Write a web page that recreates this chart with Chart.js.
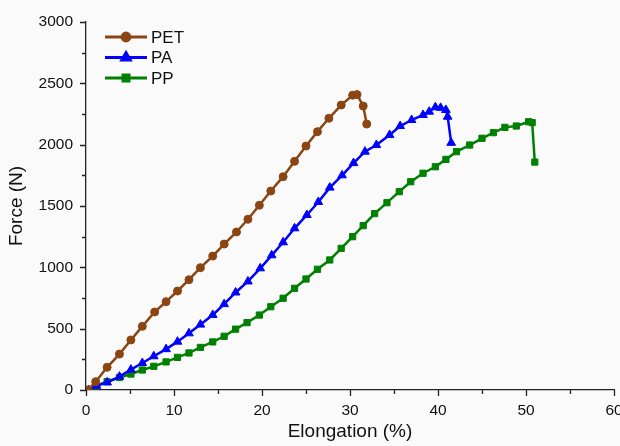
<!DOCTYPE html>
<html>
<head>
<meta charset="utf-8">
<script src="https://cdn.jsdelivr.net/npm/chart.js@4"></script>
<style>
  html, body { margin: 0; padding: 0; background: #fafafa; }
  #wrap { position: relative; width: 620px; height: 446px; }
</style>
</head>
<body>
<div id="wrap"><canvas id="chart" width="620" height="446"></canvas></div>
<script>
// Tensile curves: elongation (%) vs force (N)
const petX = [0.2, 1.1, 2.4, 3.8, 5.1, 6.4, 7.8, 9.1, 10.4, 11.7, 13.0, 14.4, 15.7, 17.1, 18.4, 19.7, 21.0, 22.4, 23.7, 25.0, 26.3, 27.6, 29.0, 30.3, 30.8, 31.5, 31.9];
const petY = [0, 68, 185, 293, 408, 519, 636, 720, 807, 899, 997, 1092, 1190, 1288, 1392, 1506, 1622, 1739, 1864, 1989, 2106, 2215, 2323, 2403, 2408, 2315, 2168];

const paX = [0.3, 1.2, 2.4, 3.8, 5.1, 6.4, 7.7, 9.1, 10.4, 11.7, 13.0, 14.4, 15.7, 17.0, 18.4, 19.8, 21.1, 22.4, 23.7, 25.1, 26.4, 27.7, 29.1, 30.4, 31.7, 33.0, 34.5, 35.7, 37.0, 38.3, 39.0, 39.7, 40.3, 40.9, 41.1, 41.5];
const paY = [0, 35, 62, 109, 166, 220, 275, 333, 394, 462, 533, 612, 700, 795, 885, 992, 1098, 1204, 1318, 1427, 1533, 1650, 1750, 1850, 1943, 1997, 2079, 2152, 2201, 2242, 2269, 2305, 2300, 2283, 2228, 2015];

const ppX = [0.3, 1.1, 2.4, 3.8, 5.1, 6.4, 7.7, 9.1, 10.4, 11.7, 13.0, 14.4, 15.7, 17.0, 18.3, 19.7, 21.0, 22.4, 23.7, 25.0, 26.3, 27.7, 29.0, 30.3, 31.5, 32.8, 34.2, 35.6, 36.9, 38.3, 39.7, 40.9, 42.1, 43.6, 45.0, 46.3, 47.6, 48.9, 50.3, 50.7, 51.0];
const ppY = [0, 33, 68, 102, 130, 163, 193, 229, 266, 302, 347, 392, 438, 496, 549, 611, 679, 748, 829, 905, 984, 1060, 1155, 1250, 1340, 1438, 1527, 1617, 1698, 1767, 1820, 1880, 1943, 1997, 2052, 2098, 2141, 2152, 2187, 2180, 1858];

const xTicks = [0, 10, 20, 30, 40, 50, 60];
const yTicks = [0, 500, 1000, 1500, 2000, 2500, 3000];

const pts = (xs, ys) => xs.map((x, i) => ({ x, y: ys[i] }));

const SERIES = [
  { label: 'PET', color: '#8B4513', style: 'circle', radius: 4, data: pts(petX, petY) },
  { label: 'PA', color: '#0000FF', style: 'triangle', radius: 5, data: pts(paX, paY) },
  { label: 'PP', color: '#008000', style: 'rect', radius: 4.4, data: pts(ppX, ppY) }
];

const FONT = "'Liberation Sans', Arial, sans-serif";

// Outward major/minor ticks on the left and bottom axes
const axisTicks = {
  id: 'axisTicks',
  afterDraw(chart) {
    const { ctx, chartArea: a, scales: { x, y } } = chart;
    ctx.save();
    ctx.strokeStyle = '#222';
    ctx.lineWidth = 1.3;
    ctx.beginPath();
    for (let v = 0; v <= 60; v += 5) {
      const px = Math.round(x.getPixelForValue(v)) + 0.5;
      ctx.moveTo(px, a.bottom);
      ctx.lineTo(px, a.bottom + (v % 10 === 0 ? 6 : 4));
    }
    for (let v = 0; v <= 3000; v += 250) {
      const py = Math.round(y.getPixelForValue(v)) + 0.5;
      ctx.moveTo(a.left, py);
      ctx.lineTo(a.left - (v % 500 === 0 ? 6 : 4), py);
    }
    ctx.stroke();
    ctx.restore();
  }
};

// Legend drawn inside the plot: line segment with marker and label
const insideLegend = {
  id: 'insideLegend',
  afterDraw(chart) {
    const { ctx } = chart;
    ctx.save();
    SERIES.forEach((s, i) => {
      const yy = 37 + i * 20.5;
      ctx.strokeStyle = s.color;
      ctx.lineWidth = 2.8;
      ctx.beginPath();
      ctx.moveTo(105, yy);
      ctx.lineTo(147, yy);
      ctx.stroke();
      ctx.fillStyle = s.color;
      Chart.helpers.drawPoint(ctx, { pointStyle: s.style, radius: s.radius, borderWidth: 1 }, 126, yy);
      ctx.fillStyle = '#111';
      ctx.font = '17px ' + FONT;
      ctx.textBaseline = 'middle';
      ctx.fillText(s.label, 151, yy + 1);
    });
    ctx.restore();
  }
};

new Chart(document.getElementById('chart'), {
  type: 'line',
  data: {
    datasets: SERIES.map(s => ({
      label: s.label,
      data: s.data,
      borderColor: s.color,
      backgroundColor: s.color,
      borderWidth: 2.5,
      pointStyle: s.style,
      pointRadius: s.radius,
      pointBorderWidth: 1,
      pointBorderColor: s.color,
      pointBackgroundColor: s.color,
      tension: 0,
      fill: false
    }))
  },
  options: {
    responsive: false,
    animation: false,
    layout: { padding: { left: 0, right: 6, top: 22, bottom: 0 } },
    plugins: {
      legend: { display: false },
      tooltip: { enabled: false }
    },
    scales: {
      x: {
        type: 'linear',
        min: 0,
        max: 60,
        afterBuildTicks: s => { s.ticks = xTicks.map(v => ({ value: v })); },
        afterFit: s => { s.height = 56; s.paddingLeft = 0; s.paddingRight = 0; },
        grid: { display: false },
        border: { display: true, color: '#222', width: 1.3 },
        ticks: { color: '#111', font: { family: FONT, size: 15.5 }, padding: 3, callback: v => String(v) },
        title: { display: true, text: 'Elongation (%)', color: '#111', font: { family: FONT, size: 19 }, padding: { top: 0, bottom: 3 } }
      },
      y: {
        type: 'linear',
        min: 0,
        max: 3000,
        afterBuildTicks: s => { s.ticks = yTicks.map(v => ({ value: v })); },
        afterFit: s => { s.width = 86; s.paddingTop = 0; s.paddingBottom = 0; },
        grid: { display: false },
        border: { display: true, color: '#222', width: 1.3 },
        ticks: { color: '#111', font: { family: FONT, size: 15.5 }, padding: 5, callback: v => String(v) },
        title: { display: true, text: 'Force (N)', color: '#111', font: { family: FONT, size: 19 }, padding: { top: 5, bottom: 0 } }
      }
    }
  },
  plugins: [axisTicks, insideLegend]
});
</script>
</body>
</html>
